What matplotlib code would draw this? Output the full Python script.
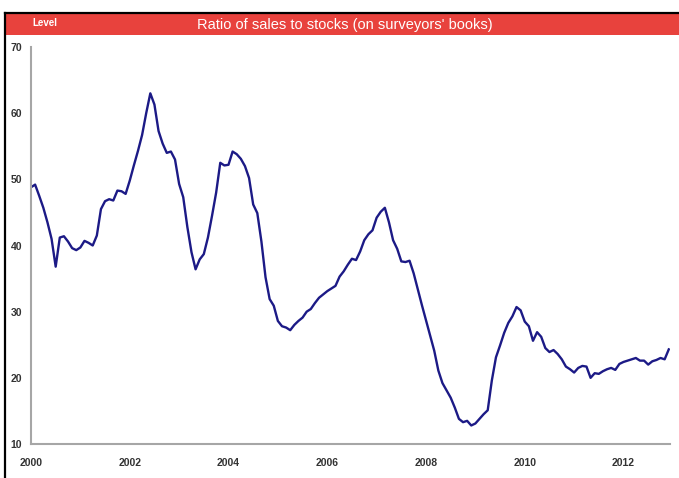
import matplotlib.pyplot as plt
from matplotlib.patches import Rectangle
from matplotlib.lines import Line2D

plt.rcParams['font.family'] = ['Liberation Sans Narrow', 'Liberation Sans', 'DejaVu Sans']

# monthly ratio of sales to stocks, Jan 2000 - Dec 2012
ratio = [
    48.8, 49.2, 47.5, 45.7, 43.5, 41.0, 36.8, 41.2, 41.4, 40.6, 39.6, 39.3,   # 2000
    39.7, 40.7, 40.4, 40.0, 41.5, 45.5, 46.7, 47.0, 46.8, 48.3, 48.2, 47.8,   # 2001
    49.8, 52.1, 54.3, 56.7, 60.0, 63.0, 61.3, 57.3, 55.4, 54.0, 54.2, 53.0,   # 2002
    49.3, 47.3, 42.8, 39.0, 36.4, 37.9, 38.7, 41.2, 44.5, 48.0, 52.5, 52.1,   # 2003
    52.2, 54.2, 53.8, 53.1, 52.0, 50.2, 46.2, 44.9, 40.6, 35.2, 31.9, 30.9,   # 2004
    28.6, 27.8, 27.6, 27.2, 28.0, 28.6, 29.1, 30.0, 30.4, 31.3, 32.1, 32.6,   # 2005
    33.1, 33.5, 33.9, 35.3, 36.1, 37.1, 38.0, 37.8, 39.1, 40.8, 41.7, 42.3,   # 2006
    44.2, 45.1, 45.7, 43.5, 40.8, 39.5, 37.6, 37.5, 37.7, 35.8, 33.4, 31.0,   # 2007
    28.7, 26.4, 24.1, 21.1, 19.2, 18.1, 17.0, 15.5, 13.8, 13.3, 13.5, 12.8,   # 2008
    13.1, 13.8, 14.5, 15.1, 19.6, 23.1, 24.9, 26.8, 28.3, 29.3, 30.7, 30.2,   # 2009
    28.5, 27.8, 25.6, 26.9, 26.2, 24.5, 23.9, 24.2, 23.6, 22.8, 21.7, 21.3,   # 2010
    20.8, 21.5, 21.8, 21.7, 20.0, 20.7, 20.6, 21.0, 21.3, 21.5, 21.2, 22.1,   # 2011
    22.4, 22.6, 22.8, 23.0, 22.6, 22.6, 22.0, 22.5, 22.7, 23.0, 22.8, 24.3,   # 2012
]
months = list(range(len(ratio)))
year_labels = ['2000', '2002', '2004', '2006', '2008', '2010', '2012']
year_pos = [12 * 2 * k for k in range(len(year_labels))]
y_ticks = [10, 20, 30, 40, 50, 60, 70]

W, H = 679, 478
fig = plt.figure(figsize=(W / 100, H / 100), dpi=100)

# red header band with the outer black frame
fig.patches.append(Rectangle((6 / W, 1 - 35 / H), (W - 6) / W, 21 / H,
                             transform=fig.transFigure, facecolor='#e8423d',
                             edgecolor='none'))
fig.lines.append(Line2D([5 / W, 5 / W], [0, 1 - 13 / H], transform=fig.transFigure,
                        color='black', lw=1.6))
fig.lines.append(Line2D([5 / W, 1], [1 - 13 / H, 1 - 13 / H], transform=fig.transFigure,
                        color='black', lw=1.6))
fig.text(345 / W, 1 - 24.5 / H, "Ratio of sales to stocks (on surveyors' books)",
         color='white', fontsize=10.5, ha='center', va='center')
fig.text(45 / W, 1 - 23.5 / H, 'Level', color='white', fontsize=7,
         fontweight='bold', ha='center', va='center')

ax = fig.add_axes([30.5 / W, 1 - 444 / H, (670 - 30.5) / W, (444 - 47) / H])
ax.plot(months, ratio, color='#1c1a86', lw=1.7, solid_joinstyle='round')

ax.set_xlim(-0.12, 155.3)
ax.set_ylim(10, 70)
ax.set_xticks(year_pos)
ax.set_xticklabels(year_labels)
ax.set_yticks(y_ticks)
ax.tick_params(length=0, labelsize=7.5, colors='#333333', pad=6)
ax.tick_params(axis='x', pad=10)
for lbl in ax.get_xticklabels() + ax.get_yticklabels():
    lbl.set_fontweight('bold')

for side in ['top', 'right']:
    ax.spines[side].set_visible(False)
for side in ['left', 'bottom']:
    ax.spines[side].set_color('#a6a6a6')
    ax.spines[side].set_linewidth(1.5)

fig.savefig('out.png', dpi=100)
